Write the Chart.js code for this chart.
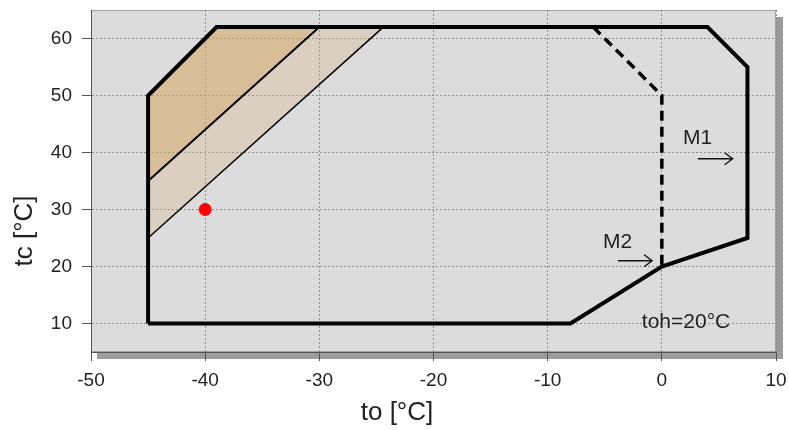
<!DOCTYPE html>
<html>
<head>
<meta charset="utf-8">
<script src="https://cdn.jsdelivr.net/npm/chart.js@4.4.1/dist/chart.umd.min.js"></script>
<style>
  html, body { margin: 0; padding: 0; background: #fff; }
  #wrap { width: 789px; height: 430px; }
</style>
</head>
<body>
<div id="wrap"><canvas id="chart" width="789" height="430"></canvas></div>
<script>
// operating envelope (to, tc)
const envelopeTo = [-45, -45, -39, 4, 7.5, 7.5, 0, -8, -45];
const envelopeTc = [10, 50, 62, 62, 55, 25, 20, 10, 10];

// dashed limit line
const dashTo = [-6, 0, 0];
const dashTc = [62, 50, 20];

// shaded zones
const darkZoneTo = [-45, -39, -30, -45, -45];
const darkZoneTc = [50, 62, 62, 35, 50];
const lightZoneTo = [-45, -30, -24.4, -45, -45];
const lightZoneTc = [35, 62, 62, 25, 35];

// operating point
const pointTo = [-40];
const pointTc = [30];

// annotations [text, to, tc]
const labels = [
  ["M1", 1.85, 41.5],
  ["M2", -5.15, 23.3],
  ["toh=20°C", -1.75, 9.2]
];
// arrows [toStart, toEnd, tc]
const arrows = [
  [3.15, 6.2, 38.9],
  [-3.85, -0.85, 21]
];

const xTicks = [-50, -40, -30, -20, -10, 0, 10];
const yTicks = [10, 20, 30, 40, 50, 60];
const xTitle = "to [°C]";
const yTitle = "tc [°C]";

const FONT = "'Liberation Sans', Arial, sans-serif";

const toXY = (xs, ys) => xs.map((x, i) => ({ x: x, y: ys[i] }));

// background + shadow of the plot area
const plotFrame = {
  id: "plotFrame",
  beforeDraw(chart) {
    const a = chart.chartArea;
    const ctx = chart.ctx;
    ctx.save();
    ctx.fillStyle = "#9c9c9c";
    ctx.fillRect(a.left + 6, a.top + 7, a.right - a.left + 1, a.bottom - a.top);
    ctx.fillStyle = "#dcdcdc";
    ctx.fillRect(a.left, a.top, a.right - a.left, a.bottom - a.top);
    ctx.strokeStyle = "#a0a0a0";
    ctx.lineWidth = 1;
    ctx.strokeRect(a.left + 0.5, a.top + 0.5, a.right - a.left - 1, a.bottom - a.top - 1);
    ctx.restore();
  },
};

// text + arrows + axis titles
const notes = {
  id: "notes",
  afterDatasetsDraw(chart) {
    const ctx = chart.ctx;
    const sx = chart.scales.x;
    const sy = chart.scales.y;
    ctx.save();
    ctx.fillStyle = "#222";
    ctx.font = "21px " + FONT;
    ctx.textBaseline = "alphabetic";
    labels.forEach((l) => {
      ctx.fillText(l[0], sx.getPixelForValue(l[1]), sy.getPixelForValue(l[2]));
    });
    ctx.strokeStyle = "#111";
    ctx.lineWidth = 1.4;
    arrows.forEach((a) => {
      const x1 = sx.getPixelForValue(a[0]);
      const x2 = sx.getPixelForValue(a[1]);
      const y = sy.getPixelForValue(a[2]);
      ctx.beginPath();
      ctx.moveTo(x1, y);
      ctx.lineTo(x2, y);
      ctx.moveTo(x2 - 8, y - 6);
      ctx.lineTo(x2, y);
      ctx.lineTo(x2 - 8, y + 6);
      ctx.stroke();
    });

    // axis titles
    ctx.font = "26px " + FONT;
    ctx.textAlign = "center";
    ctx.textBaseline = "middle";
    ctx.fillText(xTitle, 397, 413);
    ctx.translate(25, 231);
    ctx.rotate(-Math.PI / 2);
    ctx.fillText(yTitle, 0, 0);
    ctx.restore();
  },
};

const gridOpts = {
  color: "#8c8c8c",
  tickBorderDash: [],
  tickColor: "#555",
  tickLength: 9,
};
const borderOpts = { display: true, color: "#555", dash: [2, 2] };

new Chart(document.getElementById("chart"), {
  type: "scatter",
  data: {
    datasets: [
      {
        data: toXY(pointTo, pointTc),
        backgroundColor: "#ff0000",
        borderColor: "#ff0000",
        pointRadius: 6,
        order: 0,
      },
      {
        data: toXY(envelopeTo, envelopeTc),
        showLine: true,
        borderColor: "#000",
        borderWidth: 4,
        pointRadius: 0,
        borderJoinStyle: "miter",
        fill: false,
        order: 1,
      },
      {
        data: toXY(dashTo, dashTc),
        showLine: true,
        borderColor: "#000",
        borderWidth: 3.5,
        borderDash: [10, 6],
        pointRadius: 0,
        fill: false,
        order: 2,
      },
      {
        data: toXY(darkZoneTo.slice(2, 4), darkZoneTc.slice(2, 4)),
        showLine: true,
        borderColor: "#000",
        borderWidth: 2,
        pointRadius: 0,
        order: 3,
      },
      {
        data: toXY(lightZoneTo.slice(2, 4), lightZoneTc.slice(2, 4)),
        showLine: true,
        borderColor: "#000",
        borderWidth: 1.5,
        pointRadius: 0,
        order: 4,
      },
      {
        data: toXY(darkZoneTo, darkZoneTc),
        showLine: true,
        borderWidth: 0,
        borderColor: "rgba(0,0,0,0)",
        backgroundColor: "rgba(214,166,96,0.55)",
        pointRadius: 0,
        fill: "shape",
        order: 5,
      },
      {
        data: toXY(lightZoneTo, lightZoneTc),
        showLine: true,
        borderWidth: 0,
        borderColor: "rgba(0,0,0,0)",
        backgroundColor: "rgba(214,178,130,0.3)",
        pointRadius: 0,
        fill: "shape",
        order: 6,
      },
    ],
  },
  options: {
    responsive: false,
    animation: false,
    layout: { padding: { top: 10, right: 13, left: 8, bottom: 0 } },
    plugins: { legend: { display: false }, tooltip: { enabled: false } },
    scales: {
      x: {
        type: "linear",
        min: -50,
        max: 10,
        afterBuildTicks: (axis) => {
          axis.ticks = xTicks.map((v) => ({ value: v }));
        },
        afterFit: (axis) => {
          axis.height = 78;
          axis.paddingLeft = 0;
          axis.paddingRight = 0;
        },
        grid: gridOpts,
        border: borderOpts,
        ticks: {
          color: "#222",
          font: { family: FONT, size: 19 },
          padding: 8,
        },
      },
      y: {
        type: "linear",
        min: 5,
        max: 65,
        afterBuildTicks: (axis) => {
          axis.ticks = yTicks.map((v) => ({ value: v }));
        },
        afterFit: (axis) => {
          axis.width = 83;
          axis.paddingTop = 0;
          axis.paddingBottom = 0;
        },
        grid: gridOpts,
        border: borderOpts,
        ticks: {
          color: "#222",
          font: { family: FONT, size: 19 },
          padding: 10,
        },
      },
    },
  },
  plugins: [plotFrame, notes],
});
</script>
</body>
</html>
